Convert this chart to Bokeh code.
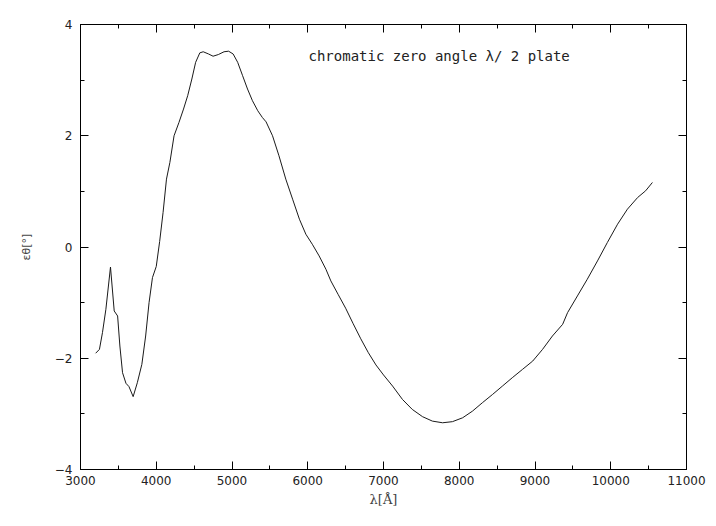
from bokeh.plotting import figure
from bokeh.models import FixedTicker, LinearAxis, Label, ColumnDataSource
from bokeh.embed import file_html
from bokeh.resources import INLINE

# ---- data ----
wavelength = [3200, 3250, 3290, 3335, 3396, 3445, 3490, 3520, 3555, 3600, 3640, 3695,
              3750, 3810, 3860, 3905, 3950, 4000, 4045, 4090, 4135, 4180, 4235, 4300,
              4360, 4415, 4470, 4520, 4575, 4620, 4690, 4750, 4820, 4895, 4955, 5015,
              5075, 5140, 5205, 5270, 5340, 5400, 5450, 5535, 5620, 5710, 5800, 5890,
              5975, 6060, 6150, 6240, 6305, 6400, 6500, 6600, 6700, 6800, 6900, 7000,
              7120, 7250, 7380, 7515, 7645, 7780, 7910, 8045, 8175, 8305, 8440, 8570,
              8700, 8835, 8970, 9100, 9230, 9365, 9430, 9560, 9690, 9825, 9955, 10090,
              10220, 10355, 10460, 10550]
zero_angle = [-1.91, -1.84, -1.54, -1.12, -0.36, -1.15, -1.24, -1.78, -2.26, -2.45, -2.51, -2.69,
              -2.44, -2.11, -1.60, -1.00, -0.55, -0.35, 0.10, 0.62, 1.22, 1.52, 2.00, 2.24,
              2.48, 2.72, 3.02, 3.32, 3.49, 3.51, 3.47, 3.43, 3.46, 3.51, 3.52, 3.47,
              3.32, 3.08, 2.84, 2.63, 2.45, 2.33, 2.25, 2.00, 1.64, 1.22, 0.86, 0.50,
              0.23, 0.05, -0.16, -0.40, -0.61, -0.85, -1.10, -1.38, -1.65, -1.90, -2.12, -2.30,
              -2.50, -2.74, -2.92, -3.05, -3.13, -3.16, -3.14, -3.07, -2.95, -2.80, -2.65, -2.50,
              -2.35, -2.20, -2.05, -1.84, -1.60, -1.39, -1.18, -0.88, -0.58, -0.25, 0.08, 0.41,
              0.68, 0.89, 1.01, 1.16]

x_major = [3000, 4000, 5000, 6000, 7000, 8000, 9000, 10000, 11000]
x_minor = [3500, 4500, 5500, 6500, 7500, 8500, 9500, 10500]
y_major = [-4, -2, 0, 2, 4]
y_minor = [-3, -1, 1, 3]

title_text = "chromatic zero angle \u03bb/ 2 plate"
x_label = "\u03bb[\u00c5]"
y_label = "\u03b5\u03b8[\u00b0]"

# ---- figure ----
p = figure(width=708, height=518, x_range=(3000, 11000), y_range=(-4, 4),
           output_backend="svg", toolbar_location=None,
           min_border_left=80, min_border_right=22, min_border_top=24, min_border_bottom=49,
           background_fill_color="white", border_fill_color="white")
p.grid.visible = False
p.outline_line_color = "black"
p.outline_line_width = 1

src = ColumnDataSource(dict(x=wavelength, y=zero_angle))
p.line("x", "y", source=src, line_color="#1a1a1a", line_width=1)

xt = FixedTicker(ticks=x_major, minor_ticks=x_minor)
yt = FixedTicker(ticks=y_major, minor_ticks=y_minor)

def style(ax, ticker, labels=True):
    ax.ticker = ticker
    ax.axis_line_color = "black"
    ax.major_tick_line_color = "black"
    ax.minor_tick_line_color = "black"
    ax.major_tick_in = 8
    ax.major_tick_out = 0
    ax.minor_tick_in = 4
    ax.minor_tick_out = 0
    ax.major_label_text_font = "DejaVu Sans"
    ax.major_label_text_font_size = "12px"
    ax.major_label_text_color = "#222222" if labels else None

style(p.xaxis[0], xt)
style(p.yaxis[0], yt)
p.xaxis[0].major_label_standoff = 6
p.yaxis[0].major_label_standoff = 8
p.xaxis[0].axis_label = x_label
p.xaxis[0].axis_label_text_font = "DejaVu Serif"
p.xaxis[0].axis_label_text_font_style = "normal"
p.xaxis[0].axis_label_text_font_size = "13px"
p.xaxis[0].axis_label_standoff = 4
p.yaxis[0].axis_label = y_label
p.yaxis[0].axis_label_text_font = "DejaVu Sans"
p.yaxis[0].axis_label_text_font_style = "normal"
p.yaxis[0].axis_label_text_font_size = "11px"
p.yaxis[0].axis_label_standoff = 19

top = LinearAxis()
style(top, xt, labels=False)
p.add_layout(top, "above")
right = LinearAxis()
style(right, yt, labels=False)
p.add_layout(right, "right")

p.add_layout(Label(x=6010, y=3.44, text=title_text, text_font="DejaVu Sans Mono",
                   text_font_size="14px", text_baseline="middle", text_color="#222222"))

open("out.html", "w").write(file_html(p, INLINE))
